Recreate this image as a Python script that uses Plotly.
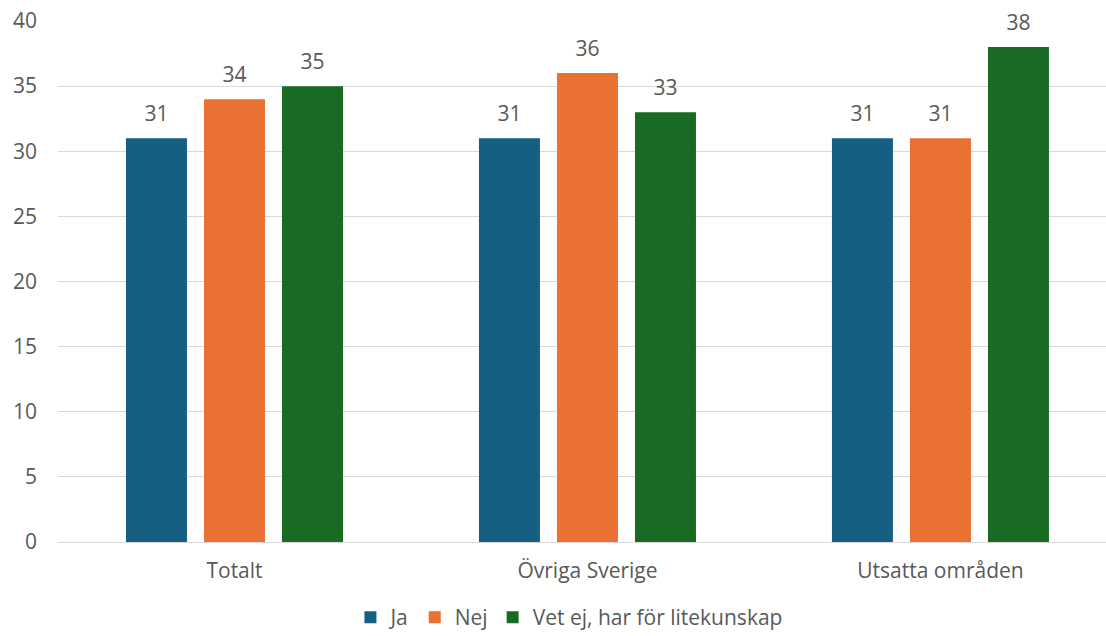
import plotly.graph_objects as go

categories = ["Totalt", "Övriga Sverige", "Utsatta områden"]
ja = [31, 31, 31]
nej = [34, 36, 31]
vet_ej = [35, 33, 38]
series_names = ["Ja", "Nej", "Vet ej, har för litekunskap"]
colors = ["#156082", "#E97132", "#196B24"]
y_ticks = [0, 5, 10, 15, 20, 25, 30, 35, 40]

font_family = "Open Sans, Lato, sans-serif"
text_color = "#595959"
FS = 21
GAP = 0.337

fig = go.Figure()
for i, (name, vals, col) in enumerate(zip(series_names, [ja, nej, vet_ej], colors)):
    fig.add_trace(go.Bar(
        x=categories, y=vals, name=name, marker_color=col,
        marker_line_width=0, hoverinfo="x+y+name", offsetgroup=str(i),
    ))
for i, (name, vals) in enumerate(zip(series_names, [ja, nej, vet_ej])):
    fig.add_trace(go.Scatter(
        x=categories, y=vals, mode="markers+text", text=vals,
        textposition="top center", showlegend=False, hoverinfo="skip",
        marker=dict(size=18, color="rgba(0,0,0,0)"),
        textfont=dict(size=FS, color=text_color, family=font_family),
        cliponaxis=False, offsetgroup=str(i), orientation="v",
    ))

fig.update_layout(
    width=1106, height=636,
    margin=dict(l=58, r=0, t=21, b=94),
    paper_bgcolor="white", plot_bgcolor="white",
    barmode="group", bargap=GAP, bargroupgap=0.218,
    scattermode="group", scattergap=GAP,
    font=dict(family=font_family, size=FS, color=text_color),
    showlegend=True,
    legend=dict(orientation="h", x=0.488, xanchor="center",
                yref="container", y=0.029, yanchor="middle",
                font=dict(size=FS, color=text_color), itemwidth=30,
                traceorder="normal"),
    xaxis=dict(range=[-0.5, 2.469], showgrid=False, ticks="", showline=False,
               automargin=False, ticklabelstandoff=14,
               tickfont=dict(size=FS, color=text_color)),
    yaxis=dict(range=[0, 40], tickvals=y_ticks, showgrid=True, gridcolor="#d9d9d9",
               gridwidth=1, zeroline=True, zerolinecolor="#d9d9d9", zerolinewidth=1,
               automargin=False,
               tickfont=dict(size=FS, color=text_color), ticklabelstandoff=20),
)

fig.write_html("out.html", config={"displayModeBar": False},
               post_script="document.body.style.margin='0';document.body.style.overflow='hidden';")
